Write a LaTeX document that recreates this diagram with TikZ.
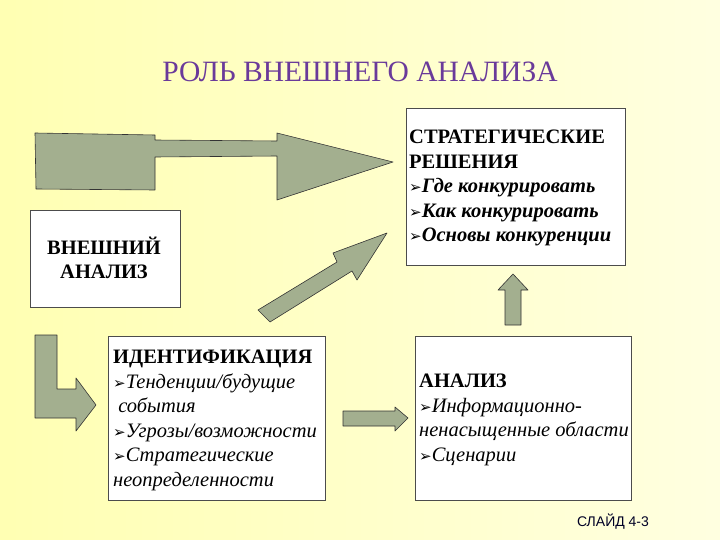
\documentclass[tikz,border=0pt]{standalone}
\usepackage{fontspec}
\setmainfont{Liberation Serif}
\newfontfamily\bul{DejaVu Sans}
\newfontfamily\sans{Liberation Sans}
\definecolor{arr}{HTML}{A3AF8F}
\definecolor{ttl}{HTML}{6A3A9A}
\begin{document}
\begin{tikzpicture}[x=1pt,y=-1pt,
  box/.style={draw=black!70,fill=white,line width=0.6pt},
  arrshape/.style={draw=black!80,fill=arr,line width=0.6pt,line join=round},
  txt/.style={font=\fontsize{20.5}{24.5}\selectfont,align=left,anchor=north west,inner sep=0pt}]
\def\b{{\bul\fontsize{15}{15}\selectfont ➢}}
\useasboundingbox (0,0) rectangle (720,540);
\shade[left color=yellow!30!white, middle color=yellow!7!white, right color=yellow!12!white] (0,0) rectangle (720,540);
\node[font=\fontsize{29.5}{32}\selectfont,text=ttl] (title) at (360,72) {РОЛЬ ВНЕШНЕГО АНАЛИЗА};
% top arrow
\draw[arrshape] (35,133) -- (155,135) -- (155,140) -- (277,141) -- (277,133) -- (393,162) -- (277,200) -- (277,156) -- (155,157) -- (155,190) -- (36,189) -- cycle;
% boxes
\draw[box] (30,210) rectangle (180,307);
\node[font=\bfseries\fontsize{20.5}{24}\selectfont,align=center] (ext) at (104,258) {ВНЕШНИЙ\\ АНАЛИЗ};
\draw[box] (406,108) rectangle (625,265);
\node[txt] (strat) at (409,130) {\textbf{СТРАТЕГИЧЕСКИЕ}\\\textbf{РЕШЕНИЯ}\\\b\textbf{\itshape Где конкурировать}\\\b\textbf{\itshape Как конкурировать}\\\b\textbf{\itshape Основы конкуренции}};
\draw[box] (108,336) rectangle (325,500);
\node[txt] (ident) at (113,350) {\textbf{ИДЕНТИФИКАЦИЯ}\\\b\textit{Тенденции/будущие}\\\textit{ события}\\\b\textit{Угрозы/возможности}\\\b\textit{Стратегические}\\\textit{неопределенности}};
\draw[box] (415,336) rectangle (631,500);
\node[txt] (anal) at (419,374) {\textbf{АНАЛИЗ}\\\b\textit{Информационно-}\\\textit{ненасыщенные области}\\\b\textit{Сценарии}};
% diagonal arrow
\draw[arrshape] (258,310) -- (337,262) -- (333,253) -- (387,233) -- (357,280) -- (352,271) -- (270,322) -- cycle;
% up arrow
\draw[arrshape] (505,325) -- (505,290) -- (498,290) -- (513,274) -- (528,290) -- (521,290) -- (521,325) -- cycle;
% L arrow
\draw[arrshape] (35,335) -- (57,335) -- (57,389) -- (76,389) -- (76,378) -- (96,405) -- (76,431) -- (76,418) -- (35,418) -- cycle;
% right arrow
\draw[arrshape] (343,411) -- (395,411) -- (395,407) -- (408,418) -- (395,431) -- (395,426) -- (343,426) -- cycle;
\node[font=\sans\fontsize{14}{16}\selectfont,text=black!85!blue] (slide) at (613,522) {СЛАЙД 4-3};
\end{tikzpicture}
\end{document}
